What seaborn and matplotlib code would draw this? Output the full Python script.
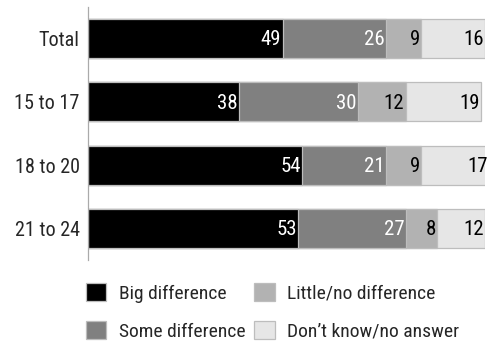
import matplotlib
matplotlib.use("Agg")
import matplotlib.pyplot as plt
import seaborn as sns
import numpy as np
from matplotlib.patches import Patch

groups = ["Total", "15 to 17", "18 to 20", "21 to 24"]
answers = ["Big difference", "Some difference", "Little/no difference", "Don\u2019t know/no answer"]
big = [49, 38, 54, 53]
some = [26, 30, 21, 27]
little = [9, 12, 9, 8]
dont_know = [16, 19, 17, 12]

colors = ["#000000", "#808080", "#b2b2b2", "#e6e6e6"]
text_colors = ["white", "white", "black", "black"]
edge = "#bdbdbd"

sns.set_style("white")
plt.rcParams["font.family"] = ["Roboto Condensed", "DejaVu Sans"]

fig = plt.figure(figsize=(4.87, 3.41), dpi=100)
ax = fig.add_axes([88 / 487, 1 - 260 / 341, 397 / 487, 253 / 341])

series = np.array([big, some, little, dont_know], dtype=float)
cum = np.cumsum(series, axis=0)

# Stacked bars: draw cumulative totals from the longest down so each segment shows
for i in range(len(answers) - 1, -1, -1):
    sns.barplot(x=cum[i], y=groups, orient="h", color=colors[i], saturation=1,
                width=0.615, edgecolor=edge, linewidth=0.9, ax=ax)

for i in range(len(answers)):
    for j, g in enumerate(groups):
        ax.text(cum[i][j] - 0.3, j + 0.02, f"{int(series[i][j])}", ha="right", va="center",
                color=text_colors[i], fontsize=15)

ax.set_xlim(0, 100)
ax.set_ylim(3.5, -0.5)
ax.set_xlabel("")
ax.set_ylabel("")
ax.set_xticks([])
for s in ["top", "right", "bottom"]:
    ax.spines[s].set_visible(False)
ax.spines["left"].set_color("#aaaaaa")
ax.spines["left"].set_linewidth(0.9)
ax.tick_params(axis="y", length=0, labelsize=14.5, pad=6)

handles = [Patch(facecolor=c, edgecolor=edge, linewidth=0.9) for c in colors]
fig.legend(handles, answers, ncol=2, loc="upper left", bbox_to_anchor=(86 / 487, 1 - 283 / 341),
           frameon=False, fontsize=14, handlelength=1.05, handleheight=1.05,
           handletextpad=0.65, columnspacing=0.45, labelspacing=0.95, borderaxespad=0,
           borderpad=0)

fig.savefig("out.png", dpi=100)
